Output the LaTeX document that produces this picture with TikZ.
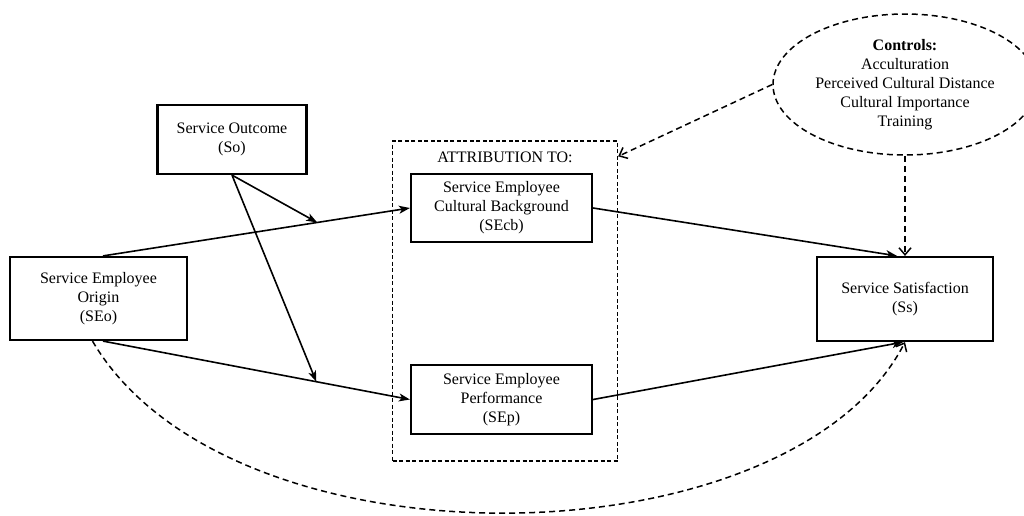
\documentclass[tikz,border=0pt]{standalone}
\usepackage{fontspec}
\setmainfont{Liberation Serif}
\usetikzlibrary{arrows.meta,shapes.geometric}
\begin{document}
\begin{tikzpicture}[x=1pt,y=-1pt,
 txt/.style={align=center,inner sep=0pt,font=\fontsize{16}{19}\selectfont},
 box/.style={txt,draw,line width=2.2pt},
 arr/.style={line width=1.6pt,-{Stealth[length=11pt,width=8pt,inset=3pt]}},
 dline/.style={line width=1.5pt,dash pattern=on 6pt off 4pt},
 darr/.style={dline,-{Straight Barb[length=7pt,width=12pt]}}]
\useasboundingbox (0,0) rectangle (1024,515);
% attribution frame
\node[draw,line width=1.3pt,dash pattern=on 4pt off 2.5pt,minimum width=225pt,minimum height=320pt,inner sep=0pt] (att) at (505,301) {};
\node[txt] (attlab) at (505,157) {ATTRIBUTION TO:};
% boxes
\node[box,minimum width=177pt,minimum height=83pt] (SEo) at (98.5,298.5) {Service Employee\\Origin\\(SEo)};
\node[box,minimum width=149pt,minimum height=69pt] (So) at (232,139.5) {Service Outcome\\(So)};
\node[box,minimum width=181pt,minimum height=68pt] (SEcb) at (501.5,208) {Service Employee\\Cultural Background\\(SEcb)};
\node[box,minimum width=181pt,minimum height=69pt] (SEp) at (501.5,399.5) {Service Employee\\Performance\\(SEp)};
\node[box,minimum width=176pt,minimum height=84pt] (Ss) at (905,299) {Service Satisfaction\\(Ss)};
% controls
\node[txt,draw,ellipse,dline,minimum width=264pt,minimum height=141pt] (ctrl) at (905,84.5)
 {\textbf{Controls:}\\Acculturation\\Perceived Cultural Distance\\Cultural Importance\\Training};
% connectors
\draw[arr] ([xshift=4.5pt]SEo.north) -- (SEcb.west);
\draw[arr] ([xshift=4.5pt]SEo.south) -- (SEp.west);
\path ([xshift=4.5pt]SEo.north) -- (SEcb.west) coordinate[pos=0.698] (m1);
\path ([xshift=4.5pt]SEo.south) -- (SEp.west) coordinate[pos=0.695] (m2);
\draw[arr] (So.south) -- (m1);
\draw[arr] (So.south) -- (m2);
\draw[arr] (SEcb.east) -- ([xshift=-8pt]Ss.north);
\draw[arr] (SEp.east) -- ([xshift=-2pt]Ss.south);
\draw[darr] (ctrl.south) -- (Ss.north);
\draw[darr] (ctrl.west) -- ([yshift=-16pt]att.north east);
\draw[darr] ([xshift=-6pt]SEo.south) .. controls (230,575) and (790,565) .. (Ss.south);
\end{tikzpicture}
\end{document}
